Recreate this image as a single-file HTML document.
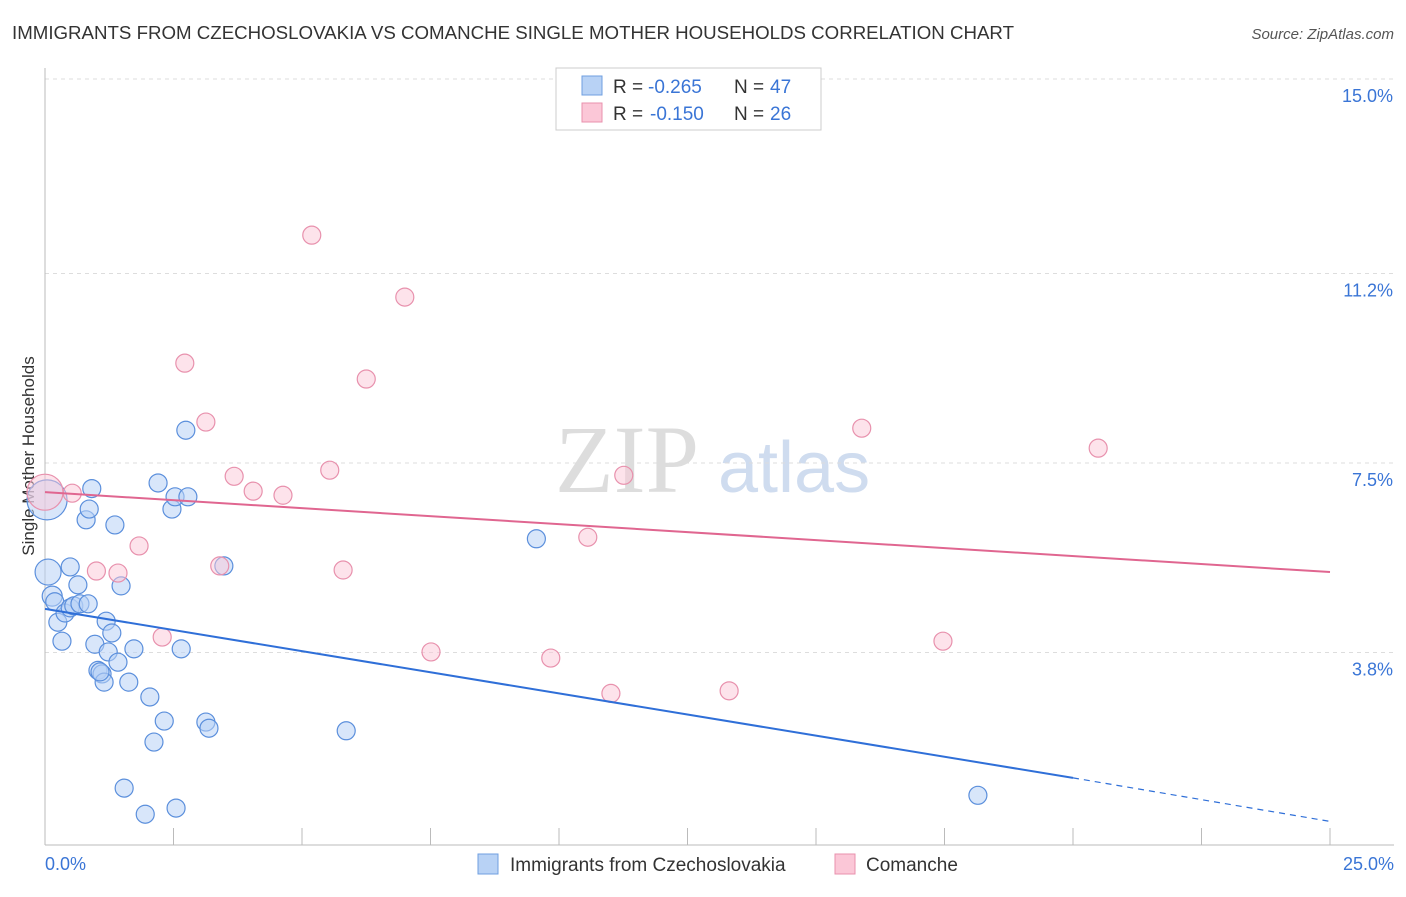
<!DOCTYPE html>
<html><head><meta charset="utf-8"><style>
body{margin:0;background:#fff;font-family:"Liberation Sans",sans-serif}
</style></head><body>
<svg id="chart" width="1406" height="892" xmlns="http://www.w3.org/2000/svg">
<text x="12" y="39" font-size="18.7" fill="#333">IMMIGRANTS FROM CZECHOSLOVAKIA VS COMANCHE SINGLE MOTHER HOUSEHOLDS CORRELATION CHART</text>
<text x="1394" y="39" font-size="15" fill="#555" text-anchor="end" font-style="italic">Source: ZipAtlas.com</text>
<text x="34" y="456" font-size="17" fill="#333" text-anchor="middle" transform="rotate(-90 34 456)">Single Mother Households</text>
<text x="555" y="492" font-size="96" fill="#ddd" font-family="Liberation Serif,serif">ZIP</text>
<text x="718" y="492" font-size="72" fill="#cfdcef">atlas</text>
<g id="grid"></g><g id="ticks"></g><g id="pts"></g><g id="lines"></g>
<g>
<rect x="556" y="68" width="265" height="62" fill="#fff" stroke="#ccc"/>
<rect x="582" y="76" width="20" height="19" fill="#b8d2f5" stroke="#6f9fe0"/>
<rect x="582" y="103" width="20" height="19" fill="#fbc7d7" stroke="#e891ad"/>
<text x="613" y="93" font-size="19" fill="#333">R = </text><text x="648" y="93" font-size="19" fill="#3a75d6">-0.265</text>
<text x="734" y="93" font-size="19" fill="#333">N = </text><text x="770" y="93" font-size="19" fill="#3a75d6">47</text>
<text x="613" y="120" font-size="19" fill="#333">R = </text><text x="650" y="120" font-size="19" fill="#3a75d6">-0.150</text>
<text x="734" y="120" font-size="19" fill="#333">N = </text><text x="770" y="120" font-size="19" fill="#3a75d6">26</text>
</g>
<g>
<rect x="478" y="854" width="20" height="20" fill="#b8d2f5" stroke="#6f9fe0"/>
<text x="510" y="871" font-size="19" fill="#333">Immigrants from Czechoslovakia</text>
<rect x="835" y="854" width="20" height="20" fill="#fbc7d7" stroke="#e891ad"/>
<text x="866" y="871" font-size="19" fill="#333">Comanche</text>
</g>
</svg>
<script>
const yTicks=[15.0,11.2,7.5,3.8];
const yTickLabels=["15.0%","11.2%","7.5%","3.8%"];
const xTickLabels=["0.0%","25.0%"];
const blueX=[0.04,0.06,0.14,0.19,0.25,0.33,0.39,0.49,0.49,0.56,0.64,0.68,0.8,0.84,0.86,0.91,0.97,1.03,1.11,1.15,1.23,1.19,1.3,1.36,1.42,1.48,1.54,1.63,1.73,1.95,2.04,2.12,2.2,2.32,2.47,2.53,2.55,2.65,2.74,2.78,3.13,3.19,3.48,5.86,9.56,18.15,1.07];
const blueY=[6.78,5.37,4.9,4.79,4.39,4.02,4.57,5.47,4.67,4.71,5.12,4.75,6.39,4.75,6.6,7.0,3.96,3.45,3.38,3.22,3.81,4.41,4.18,6.29,3.61,5.1,1.15,3.22,3.87,0.64,2.93,2.05,7.11,2.46,6.6,6.84,0.76,3.87,8.14,6.84,2.44,2.32,5.49,2.27,6.02,1.01,3.42];
const blueR=[20,13,10,9,9,9,9,9,9,9,9,9,9,9,9,9,9,9,9,9,9,9,9,9,9,9,9,9,9,9,9,9,9,9,9,9,9,9,9,9,9,9,9,9,9,9,9];
const pinkX=[0.0,0.53,1.0,1.42,1.83,2.28,2.72,3.13,3.4,3.68,4.05,4.63,5.19,5.54,5.8,6.25,7.0,7.51,9.84,10.56,11.01,11.26,13.31,15.89,17.47,20.49];
const pinkY=[6.93,6.91,5.39,5.35,5.88,4.1,9.45,8.3,5.49,7.24,6.95,6.87,11.95,7.36,5.41,9.14,10.74,3.81,3.69,6.05,3.0,7.26,3.05,8.18,4.02,7.79];
const pinkR=[18,9,9,9,9,9,9,9,9,9,9,9,9,9,9,9,9,9,9,9,9,9,9,9,9,9];
const blueTrend=[4.65,1.35,0.5];
const pinkTrend=[6.93,5.37];
const X=v=>45+v*51.4, Y=v=>847-v*51.2;
const NS="http://www.w3.org/2000/svg";
function mk(p,t,a){const e=document.createElementNS(NS,t);for(const k in a)e.setAttribute(k,a[k]);document.getElementById(p).appendChild(e);return e;}
yTicks.forEach((t,i)=>{
 const l=mk('grid','line',{x1:45,x2:1394,y1:Y(t),y2:Y(t),stroke:'#ddd','stroke-dasharray':'4 4'});
 
 
 const tx=mk('grid','text',{x:1393,y:Y(t)+23,'font-size':18,fill:'#3a75d6','text-anchor':'end'});tx.textContent=yTickLabels[i];
 
 
});
const ax=mk('ticks','line',{x1:45,x2:45,y1:68,y2:845,stroke:'#bbb'});


const bx=mk('ticks','line',{x1:45,x2:1394,y1:845,y2:845,stroke:'#bbb'});


for(let i=0;i<=10;i++){const t=mk('ticks','line',{x1:X(i*2.5),x2:X(i*2.5),y1:828,y2:845,stroke:'#bbb'});
 
 }
[[0,'start',45],[25,'end',1394]].forEach((d,i)=>{const t=mk('ticks','text',{x:d[2],y:870,'font-size':18,fill:'#3a75d6','text-anchor':d[1]});t.textContent=xTickLabels[i];
 
 });
blueX.forEach((v,i)=>{const c=mk('pts','circle',{cx:X(v),cy:Y(blueY[i]),r:blueR[i],fill:'rgba(184,210,245,0.55)',stroke:'#5b8fdc','stroke-width':1.2});
 
 });
pinkX.forEach((v,i)=>{const c=mk('pts','circle',{cx:X(v),cy:Y(pinkY[i]),r:pinkR[i],fill:'rgba(251,199,215,0.5)',stroke:'#e891ad','stroke-width':1.2});
 
 });
const bl=mk('lines','line',{x1:X(0),y1:Y(blueTrend[0]),x2:X(20),y2:Y(blueTrend[1]),stroke:'#2f6fd8','stroke-width':2});


const bd=mk('lines','line',{x1:X(20),y1:Y(blueTrend[1]),x2:X(25),y2:Y(blueTrend[2]),stroke:'#2f6fd8','stroke-width':1.2,'stroke-dasharray':'6 5'});


const pl=mk('lines','line',{x1:X(0),y1:Y(pinkTrend[0]),x2:X(25),y2:Y(pinkTrend[1]),stroke:'#e06690','stroke-width':2});


</script>
</body></html>
